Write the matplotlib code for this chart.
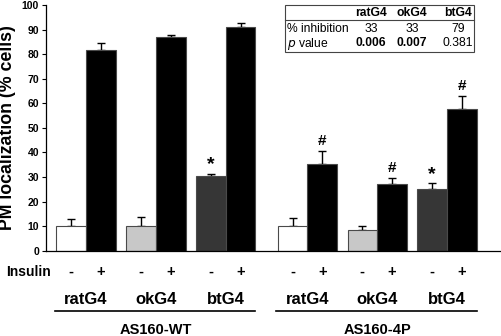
import numpy as np
import matplotlib
matplotlib.use("Agg")
from matplotlib import pyplot as plt

plt.rcParams['font.family'] = ['Liberation Sans', 'DejaVu Sans']

# data
constructs = ["ratG4", "okG4", "btG4"]
groups = ["AS160-WT", "AS160-4P"]
basal = [10.1, 10.1, 30.3, 10.2, 8.4, 25.0]
basal_err = [2.9, 3.5, 1.1, 3.0, 1.8, 2.4]
insulin = [81.7, 87.0, 91.2, 35.2, 27.0, 57.7]
insulin_err = [3.0, 0.7, 1.6, 5.5, 2.5, 5.4]
basal_colors = ["white", "#c8c8c8", "#363636"] * 2
basal_marks = ["", "", "*", "", "", "*"]
insulin_marks = ["", "", "", "#", "#", "#"]

table_cols = ["ratG4", "okG4", "btG4"]
inhibition = ["33", "33", "79"]
p_values = ["0.006", "0.007", "0.381"]
p_bold = [True, True, False]

centers = np.array([0, 2.35, 4.7, 7.45, 9.8, 12.15])
w = 1.0

fig = plt.figure(figsize=(5.02, 3.36), dpi=100)
ax = fig.add_axes([0.0916, 0.254, 0.9084, 0.731])

errkw = dict(ecolor="black", elinewidth=1.0, capsize=3, capthick=1.0)
ax.bar(centers - w / 2, basal, w, color=basal_colors, edgecolor="#4a4a4a",
       linewidth=0.8, zorder=2)
ax.bar(centers + w / 2, insulin, w, color="black", edgecolor="#4a4a4a",
       linewidth=0.8, zorder=2)
ax.errorbar(centers - w / 2, basal, yerr=[np.zeros(6), basal_err], fmt="none", zorder=1, **errkw)
ax.errorbar(centers + w / 2, insulin, yerr=[np.zeros(6), insulin_err], fmt="none", zorder=1, **errkw)

for i in range(6):
    if basal_marks[i]:
        ax.annotate(basal_marks[i], (centers[i] - w / 2, basal[i] + basal_err[i]),
                    xytext=(0, 0), textcoords="offset points", ha="center", va="bottom",
                    fontsize=14, fontweight="bold")
    if insulin_marks[i]:
        ax.annotate(insulin_marks[i], (centers[i] + w / 2, insulin[i] + insulin_err[i]),
                    xytext=(0, 2), textcoords="offset points", ha="center", va="bottom",
                    fontsize=11, fontweight="bold")

ax.set_xlim(-1.35, 14.0)
ax.set_ylim(0, 100)
ax.set_yticks(np.arange(0, 101, 10))
for lab in ax.get_yticklabels():
    lab.set_fontweight("bold")
ax.tick_params(axis="y", labelsize=7.5, length=3, width=0.8, pad=2)
ax.set_xticks([])
ax.spines["top"].set_visible(False)
ax.spines["right"].set_visible(False)
ax.spines["left"].set_linewidth(0.9)
ax.spines["bottom"].set_linewidth(0.9)
ax.set_ylabel("PM localization (% cells)", fontsize=12.8, fontweight="bold", labelpad=4)

# bottom labels
trans = ax.get_xaxis_transform()
ax.text(-1.2, -0.085, "Insulin", transform=trans, ha="right", va="center",
        fontsize=10, fontweight="bold", clip_on=False)
for i in range(6):
    ax.text(centers[i] - w / 2, -0.085, "-", transform=trans, ha="center", va="center",
            fontsize=10.5, fontweight="bold")
    ax.text(centers[i] + w / 2, -0.085, "+", transform=trans, ha="center", va="center",
            fontsize=10.5, fontweight="bold")
    ax.text(centers[i], -0.2, constructs[i % 3], transform=trans, ha="center", va="center",
            fontsize=12, fontweight="bold")
for g in range(2):
    c = centers[g * 3:(g + 1) * 3]
    ax.plot([c[0] - w - 0.05, c[-1] + w], [-0.246, -0.246], transform=trans, color="black",
            lw=1.2, clip_on=False)
    ax.text(c[1], -0.325, groups[g], transform=trans, ha="center", va="center",
            fontsize=10.5, fontweight="bold")

# inset table
fx = lambda px: px / 502
fy = lambda py: 1 - py / 336
fig.add_artist(plt.Rectangle((fx(285), fy(52)), fx(474) - fx(285), fy(5) - fy(52),
                             transform=fig.transFigure, fill=False, edgecolor="#444444", lw=0.8))
fig.add_artist(plt.Line2D([fx(285), fx(474)], [fy(20), fy(20)], transform=fig.transFigure,
                          color="#444444", lw=0.8))
col_x = [371, 412, 458]
for j in range(3):
    fig.text(fx(col_x[j]), fy(13), table_cols[j], ha="center", va="center", fontsize=8.7,
             fontweight="bold")
    fig.text(fx(col_x[j]), fy(28.5), inhibition[j], ha="center", va="center", fontsize=8.7)
    fig.text(fx(col_x[j]), fy(43.5), p_values[j], ha="center", va="center", fontsize=8.7,
             fontweight="bold" if p_bold[j] else "normal")
fig.text(fx(287), fy(28.5), "% inhibition", ha="left", va="center", fontsize=8.7)
fig.text(fx(287), fy(43.5), "$\\it{p}$ value", ha="left", va="center", fontsize=8.7)

fig.savefig("out.png", dpi=100)
